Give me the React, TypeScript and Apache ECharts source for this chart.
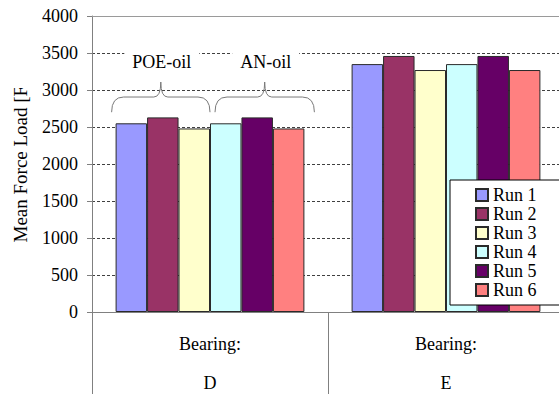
import React, { useEffect, useRef } from "react";
import * as echarts from "echarts";

// Bearing categories and per-run mean force loads
const categories = ["D", "E"];
const runNames = ["Run 1", "Run 2", "Run 3", "Run 4", "Run 5", "Run 6"];
const runValues = [
  [2550, 3350],
  [2630, 3460],
  [2480, 3270],
  [2550, 3350],
  [2630, 3460],
  [2480, 3270],
];
const runColors = ["#9999FF", "#993366", "#FFFFCC", "#CCFFFF", "#660066", "#FF8080"];

// Value axis range
const yMin = 0;
const yMax = 4000;
const yStep = 500;

// Oil groups annotated with braces over bearing D
const oilGroups = ["POE-oil", "AN-oil"];
const oilGroupCategory = [0, 0];
const oilGroupRuns = [
  [0, 2],
  [3, 5],
];

const FONT = "Liberation Serif";
const BRACE_END = 2700; // value where the brace arms end
const BRACE_MID = 2905; // value of the brace's horizontal stroke
const BRACE_TIP = 3108; // value of the brace's tip
const BRACE_TEXT = 3375; // value of the group caption
const braceNudge = [
  [-4, 0],
  [5, 10],
];

export default function App() {
  const ref = useRef<HTMLDivElement>(null);

  useEffect(() => {
    if (!ref.current) return;
    const chart = echarts.init(ref.current, undefined, { renderer: "svg" });

    const barSeries = runNames.map((name, i) => ({
      name,
      type: "bar",
      data: runValues[i],
      barGap: "0%",
      barCategoryGap: "20%",
      itemStyle: { color: runColors[i], borderColor: "#2a2a2a", borderWidth: 1 },
      ...(i === 0
        ? {
            markLine: {
              silent: true,
              symbol: "none",
              label: { show: false },
              lineStyle: { type: "solid", color: "#9a9a9a", width: 1 },
              data: [{ yAxis: yMax }],
            },
          }
        : {}),
    }));

    const braceSeries = {
      type: "custom",
      name: "groups",
      silent: true,
      z: 5,
      data: oilGroups.map((g, i) => [oilGroupCategory[i], oilGroupRuns[i][0], oilGroupRuns[i][1]]),
      renderItem: (params: any, api: any) => {
        const idx = params.dataIndex;
        const cat = api.value(0);
        const r0 = api.value(1);
        const r1 = api.value(2);
        const center = api.coord([cat, 0])[0];
        const band = api.size([1, 0])[0];
        const barW = (band * 0.8) / runNames.length;
        const start = center - band * 0.4;
        const left = start + r0 * barW + braceNudge[idx][0];
        const right = start + (r1 + 1) * barW + braceNudge[idx][1];
        const tip = (left + right) / 2;
        const yEnd = api.coord([cat, BRACE_END])[1];
        const yMid = api.coord([cat, BRACE_MID])[1];
        const yTip = api.coord([cat, BRACE_TIP])[1];
        const yText = api.coord([cat, BRACE_TEXT])[1];
        const d =
          `M${left},${yEnd} Q${left},${yMid} ${left + 12},${yMid} ` +
          `L${tip - 7},${yMid} Q${tip},${yMid} ${tip},${yTip} ` +
          `Q${tip},${yMid} ${tip + 7},${yMid} L${right - 12},${yMid} ` +
          `Q${right},${yMid} ${right},${yEnd}`;
        return {
          type: "group",
          children: [
            {
              type: "path",
              shape: { pathData: d },
              style: { stroke: "#7a7a7a", fill: "none", lineWidth: 1 },
            },
            {
              type: "text",
              x: tip + 1,
              y: yText,
              style: {
                text: oilGroups[idx],
                fontFamily: FONT,
                fontSize: 18,
                fill: "#000",
                align: "center",
                verticalAlign: "middle",
                backgroundColor: "#fff",
                padding: [4, 8, 4, 8],
              },
            },
          ],
        };
      },
    };

    chart.setOption({
      animation: false,
      backgroundColor: "#fff",
      textStyle: { fontFamily: FONT },
      grid: {
        left: 92,
        top: 16,
        width: 472,
        height: 296,
        containLabel: false,
        outerBoundsMode: "none",
      },
      legend: {
        data: runNames,
        orient: "vertical",
        left: 450,
        top: 180,
        padding: [6, 23, 6, 25],
        backgroundColor: "#fff",
        borderColor: "#000",
        borderWidth: 1,
        borderRadius: 0,
        icon: "rect",
        itemWidth: 12,
        itemHeight: 12,
        itemGap: 1,
        textStyle: { fontFamily: FONT, fontSize: 18, lineHeight: 18, color: "#000" },
      },
      xAxis: {
        type: "category",
        data: categories,
        axisLine: { show: true, lineStyle: { color: "#808080", width: 1 } },
        axisTick: {
          show: true,
          interval: 0,
          length: 82,
          lineStyle: { color: "#808080", width: 1 },
        },
        axisLabel: {
          interval: 0,
          margin: 12,
          color: "#000",
          fontFamily: FONT,
          fontSize: 18,
          lineHeight: 39,
          formatter: (v: string) => `Bearing:\n${v}`,
        },
      },
      yAxis: {
        type: "value",
        min: yMin,
        max: yMax,
        interval: yStep,
        axisLine: { show: true, lineStyle: { color: "#808080", width: 1 } },
        axisTick: { show: true, length: 5, lineStyle: { color: "#808080" } },
        axisLabel: {
          margin: 14,
          color: "#000",
          fontFamily: FONT,
          fontSize: 18,
          formatter: (v: number) => String(v),
        },
        splitLine: {
          show: true,
          showMaxLine: false,
          showMinLine: false,
          lineStyle: { type: [3, 2], color: "#404040", width: 1 },
        },
      },
      graphic: [
        {
          type: "text",
          x: 20,
          y: 161,
          rotation: Math.PI / 2,
          style: {
            text: "Mean Force Load [F]",
            fontFamily: FONT,
            fontSize: 19,
            fill: "#000",
            align: "center",
            verticalAlign: "middle",
          },
        },
        {
          type: "rect",
          shape: { x: 0, y: 0, width: 32, height: 88 },
          style: { fill: "#fff" },
        },
      ],
      series: [...barSeries, braceSeries],
    });

    return () => chart.dispose();
  }, []);

  return (
    <div
      ref={ref}
      style={{ position: "absolute", left: 0, top: 0, width: 559, height: 394 }}
    />
  );
}
